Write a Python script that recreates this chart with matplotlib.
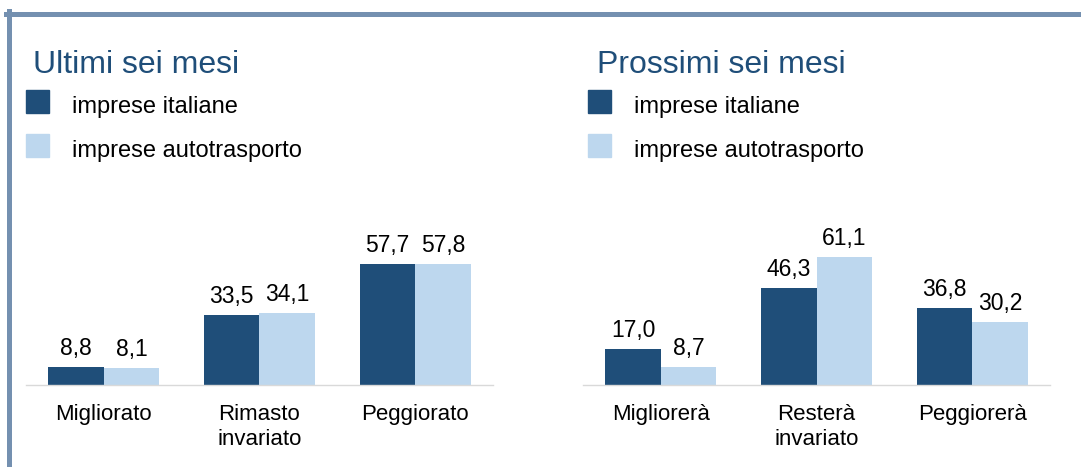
import matplotlib
matplotlib.use('Agg')
import matplotlib.pyplot as plt
from matplotlib.patches import Rectangle
from matplotlib.lines import Line2D
import numpy as np

plt.rcParams['font.family'] = ['Liberation Sans', 'DejaVu Sans']

# data
series_names = ['imprese italiane', 'imprese autotrasporto']
left_title = 'Ultimi sei mesi'
left_categories = ['Migliorato', 'Rimasto\ninvariato', 'Peggiorato']
left_italiane = [8.8, 33.5, 57.7]
left_autotrasporto = [8.1, 34.1, 57.8]

right_title = 'Prossimi sei mesi'
right_categories = ['Migliorerà', 'Resterà\ninvariato', 'Peggiorerà']
right_italiane = [17.0, 46.3, 36.8]
right_autotrasporto = [8.7, 61.1, 30.2]

dark = '#1F4E79'
light = '#BDD7EE'
border = '#7490B0'

W, H = 1081, 467
fig = plt.figure(figsize=(W / 100, H / 100), dpi=100)


def px(x, y):
    # pixel coords (from top-left) to figure fraction
    return x / W, 1 - y / H


def draw_panel(x0, x1, leg_x, title_x, title, categories, s1, s2):
    base = 385
    ymax = 70
    top = base - ymax * 2.1
    ax = fig.add_axes([x0 / W, (H - base) / H, (x1 - x0) / W, (base - top) / H])
    x = np.arange(len(categories))
    w = 0.356
    b1 = ax.bar(x - w / 2, s1, w, color=dark)
    b2 = ax.bar(x + w / 2, s2, w, color=light)
    for bars, vals in ((b1, s1), (b2, s2)):
        for rect, v in zip(bars, vals):
            ax.annotate(f'{v:.1f}'.replace('.', ','),
                        xy=(rect.get_x() + rect.get_width() / 2, v),
                        xytext=(0, 5), textcoords='offset points',
                        ha='center', va='bottom', fontsize=16.5)
    ax.set_xlim(-0.5, len(categories) - 0.5)
    ax.set_ylim(0, ymax)
    ax.set_xticks(x)
    ax.set_xticklabels(categories, fontsize=16, linespacing=1.25)
    ax.tick_params(axis='x', length=0, pad=13.5)
    ax.set_yticks([])
    for s in ('top', 'right', 'left'):
        ax.spines[s].set_visible(False)
    ax.spines['bottom'].set_color('#D9D9D9')
    ax.spines['bottom'].set_linewidth(1)

    # title and legend
    fig.text(*px(title_x, 73), title, fontsize=23, color='#1F4E79',
             ha='left', va='baseline')
    for i, (name, col) in enumerate(zip(series_names, [dark, light])):
        ybot = 112.7 + i * 44
        fx, fy = px(leg_x, ybot)
        fig.add_artist(Rectangle((fx, fy), 23 / W, 23 / H, color=col,
                                 transform=fig.transFigure))
        fig.text(*px(leg_x + 46, ybot), name, fontsize=17, ha='left',
                 va='baseline')


draw_panel(26, 493, 26, 33, left_title, left_categories, left_italiane,
           left_autotrasporto)
draw_panel(583, 1050, 588, 597, right_title, right_categories,
           right_italiane, right_autotrasporto)

# frame lines top and left
lw = 5 * 72 / 100
fig.add_artist(Line2D([6 / W, 1], [1 - 13.5 / H] * 2, color=border,
                      linewidth=lw, transform=fig.transFigure))
fig.add_artist(Line2D([8.5 / W] * 2, [0, 1 - 11 / H], color=border,
                      linewidth=lw, transform=fig.transFigure))

plt.savefig('out.png', dpi=100)
